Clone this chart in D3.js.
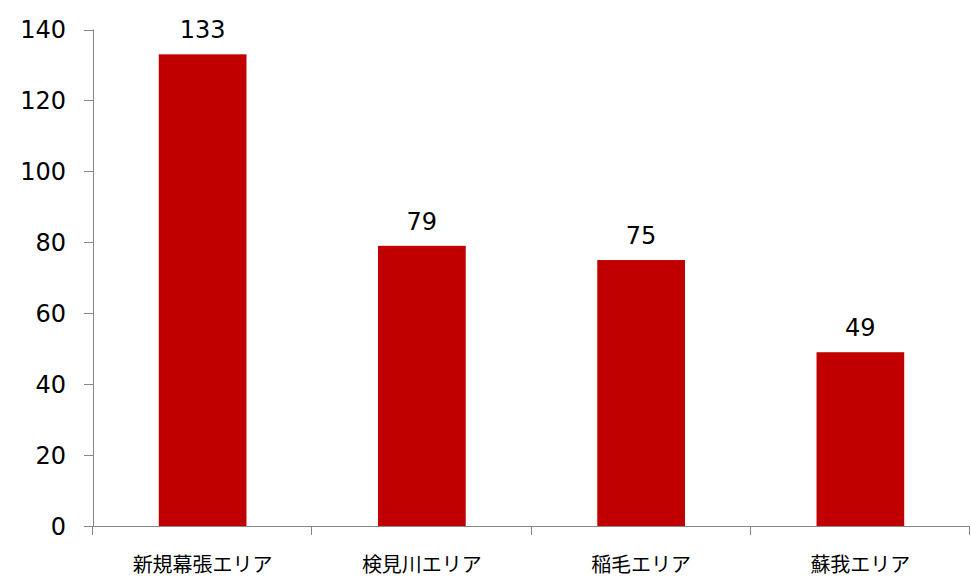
<!DOCTYPE html>
<html>
<head>
  <meta charset="utf-8"/>
  <title>Area chart</title>
  <style type="text/css">
    body {
      padding:0;
      margin:0;
      background-color:white;
    }
    .ytick text, .value-label {
      font-family: "DejaVu Sans", Verdana, sans-serif;
      font-size: 24px;
      fill: #000;
    }
    .xtick text {
      font-family: "Noto Sans CJK JP", sans-serif;
      font-size: 20px;
      fill: #000;
    }
  </style>
  <script src="https://cdn.jsdelivr.net/npm/d3@7"></script>
</head>
<body>
<script type="text/javascript">

  // DATA
  var categories = ["新規幕張エリア", "検見川エリア", "稲毛エリア", "蘇我エリア"];
  var values = [133, 79, 75, 49];
  var yTicks = [0, 20, 40, 60, 80, 100, 120, 140];

  var w = 971, h = 584;
  var padLeft = 93, padRight = 970, padTop = 29.5, padBottom = 526;

  var barColor = "#C00000",
      axisColor = "#878787";

  var svg = d3.select("body").append("svg")
              .attr("width", w)
              .attr("height", h);

  var x = d3.scaleBand()
            .domain(categories)
            .range([padLeft, padRight])
            .paddingInner(0)
            .paddingOuter(0);

  var y = d3.scaleLinear()
            .domain([0, 140])
            .range([padBottom, padTop]);

  // y axis
  var yAxis = svg.append("g").attr("class", "ytick");
  yAxis.append("line")
       .attr("x1", padLeft + 0.5).attr("x2", padLeft + 0.5)
       .attr("y1", y(140)).attr("y2", y(0))
       .style("stroke", axisColor);
  var yt = yAxis.selectAll("g.t").data(yTicks).enter().append("g").attr("class", "t");
  yt.append("line")
    .attr("x1", padLeft - 9).attr("x2", padLeft)
    .attr("y1", function(d){ return Math.round(y(d)) + 0.5; })
    .attr("y2", function(d){ return Math.round(y(d)) + 0.5; })
    .style("stroke", axisColor);
  yt.append("text")
    .attr("x", 66)
    .attr("y", function(d){ return y(d); })
    .attr("dy", "0.36em")
    .attr("text-anchor", "end")
    .text(function(d){ return d; });

  // bars
  var bw = x.bandwidth() * 0.4;
  svg.selectAll("rect.bar").data(values).enter().append("rect")
     .attr("class", "bar")
     .attr("x", function(d, i){ return x(categories[i]) + x.bandwidth()/2 - bw/2; })
     .attr("y", function(d){ return y(d); })
     .attr("width", bw)
     .attr("height", function(d){ return y(0) - y(d); })
     .style("fill", barColor);

  svg.selectAll("text.value-label").data(values).enter().append("text")
     .attr("class", "value-label")
     .attr("x", function(d, i){ return x(categories[i]) + x.bandwidth()/2; })
     .attr("y", function(d){ return y(d) - 16; })
     .attr("text-anchor", "middle")
     .text(function(d){ return d; });

  // x axis
  var xAxis = svg.append("g").attr("class", "xtick");
  xAxis.append("line")
       .attr("x1", padLeft).attr("x2", padRight)
       .attr("y1", Math.round(y(0)) + 0.5).attr("y2", Math.round(y(0)) + 0.5)
       .style("stroke", axisColor);
  var edges = categories.map(function(c){ return x(c); }).concat([padRight]);
  xAxis.selectAll("line.t").data(edges).enter().append("line")
       .attr("class", "t")
       .attr("x1", function(d){ return Math.round(d) - 0.5; })
       .attr("x2", function(d){ return Math.round(d) - 0.5; })
       .attr("y1", y(0)).attr("y2", y(0) + 9)
       .style("stroke", axisColor);
  xAxis.selectAll("text").data(categories).enter().append("text")
       .attr("x", function(d){ return x(d) + x.bandwidth()/2; })
       .attr("y", 572)
       .attr("text-anchor", "middle")
       .text(function(d){ return d; });

</script>
</body>
</html>
